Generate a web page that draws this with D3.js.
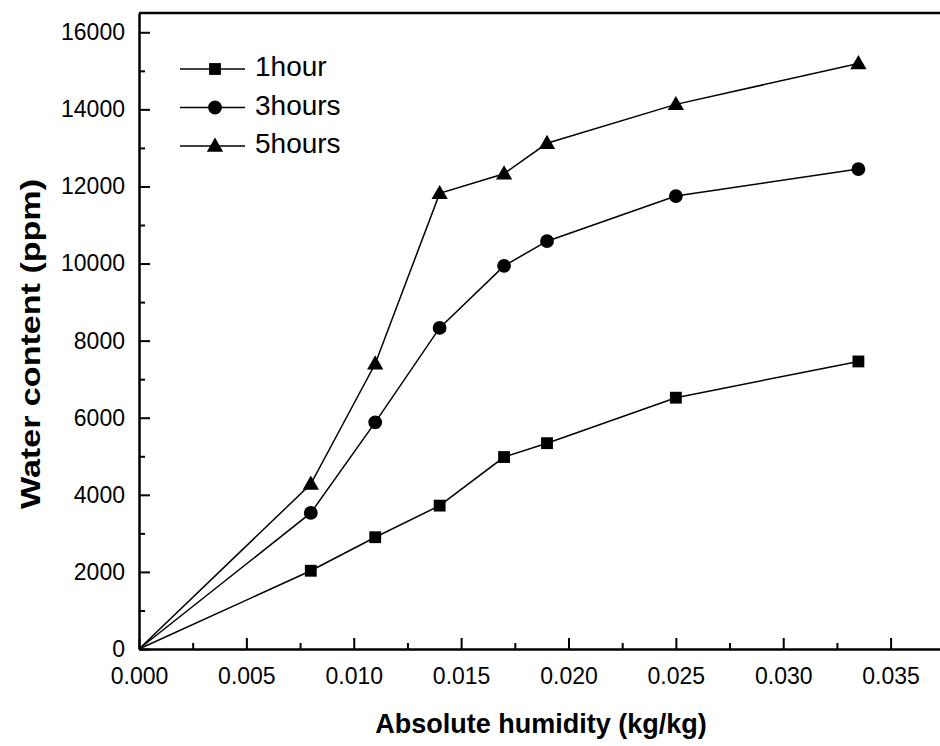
<!DOCTYPE html>
<html>
<head>
<meta charset="utf-8">
<script src="https://cdn.jsdelivr.net/npm/d3@7"></script>
<style>
  body { margin: 0; background: #fff; }
  svg { font-family: "Liberation Sans", Arial, sans-serif; }
</style>
</head>
<body>
<div class="chart"></div>
<script>
// data
const humidity = [0, 0.008, 0.011, 0.014, 0.017, 0.019, 0.025, 0.0335]
const hour1 = [0, 2030, 2900, 3720, 4980, 5340, 6520, 7460]
const hour3 = [0, 3530, 5880, 8330, 9940, 10580, 11750, 12450]
const hour5 = [0, 4280, 7400, 11820, 12330, 13120, 14130, 15190]
const seriesNames = ['1hour', '3hours', '5hours']
const seriesMarkers = ['square', 'circle', 'triangle']
const xTicks = [0, 0.005, 0.010, 0.015, 0.020, 0.025, 0.030, 0.035]
const yTicks = [0, 2000, 4000, 6000, 8000, 10000, 12000, 14000, 16000]

const series = [hour1, hour3, hour5].map((vals, i) => ({
    name: seriesNames[i],
    marker: seriesMarkers[i],
    points: vals.map((v, j) => ({x: humidity[j], y: v}))
}))

const width = 940, height = 746
const margin = {top: 13, right: 0, bottom: 97, left: 139}

const svg = d3.select('.chart').append('svg')
    .attr('width', width).attr('height', height)

const xScale = d3.scaleLinear().domain([0, 0.0373]).range([margin.left, width - margin.right])
const yScale = d3.scaleLinear().domain([0, 16500]).range([height - margin.bottom, margin.top])

// frame: top edge
svg.append('line')
    .attr('x1', margin.left).attr('x2', width)
    .attr('y1', margin.top).attr('y2', margin.top)
    .attr('stroke', '#000').attr('stroke-width', 2.5)

// x axis, ticks pointing inward
const xMinor = d3.range(0.0025, 0.0373, 0.005)
svg.append('g').attr('transform', `translate(0,${yScale(0)})`)
    .call(d3.axisBottom(xScale).tickValues(xMinor).tickSize(-6).tickFormat(''))
    .call(g => g.select('.domain').remove())
    .selectAll('line').attr('stroke-width', 2)

const xAxisDraw = svg.append('g').attr('class', 'x axis')
    .attr('transform', `translate(0,${yScale(0)})`)
    .call(d3.axisBottom(xScale).tickValues(xTicks).tickSizeInner(-11).tickSizeOuter(0)
        .tickFormat(d3.format('.3f')))
xAxisDraw.select('.domain').attr('stroke-width', 2.5)
xAxisDraw.selectAll('.tick line').attr('stroke-width', 2)
xAxisDraw.selectAll('text').attr('y', 19).attr('font-size', 23).attr('fill', '#000')

// y axis
const yMinor = d3.range(1000, 16500, 2000)
svg.append('g').attr('transform', `translate(${xScale(0)},0)`)
    .call(d3.axisLeft(yScale).tickValues(yMinor).tickSize(-6).tickFormat(''))
    .call(g => g.select('.domain').remove())
    .selectAll('line').attr('stroke-width', 2)

const yAxisDraw = svg.append('g').attr('class', 'y axis')
    .attr('transform', `translate(${xScale(0)},0)`)
    .call(d3.axisLeft(yScale).tickValues(yTicks).tickSizeInner(-11).tickSizeOuter(0)
        .tickFormat(d3.format('d')))
yAxisDraw.select('.domain').attr('stroke-width', 2.5)
yAxisDraw.selectAll('.tick line').attr('stroke-width', 2)
yAxisDraw.selectAll('text').attr('x', -14).attr('font-size', 23).attr('fill', '#000')

// axis titles
svg.append('text')
    .attr('x', 541).attr('y', 733)
    .attr('text-anchor', 'middle')
    .attr('font-size', 27).attr('font-weight', 'bold')
    .text('Absolute humidity (kg/kg)')

svg.append('text')
    .attr('transform', 'translate(40,344) rotate(-90)')
    .attr('text-anchor', 'middle')
    .attr('font-size', 28).attr('font-weight', 'bold')
    .attr('textLength', 330).attr('lengthAdjust', 'spacingAndGlyphs')
    .text('Water content (ppm)')

// markers
const symbolType = {square: d3.symbolSquare, circle: d3.symbolCircle, triangle: d3.symbolTriangle}
const symbolSize = {square: 140, circle: 150, triangle: 115}

function drawMarker(g, kind, x, y) {
    g.append('path')
        .attr('d', d3.symbol().type(symbolType[kind]).size(symbolSize[kind])())
        .attr('transform', `translate(${x},${y + (kind === 'triangle' ? 1 : 0)})`)
        .attr('fill', '#000')
}

const line = d3.line().x(d => xScale(d.x)).y(d => yScale(d.y))

series.forEach(s => {
    svg.append('path')
        .datum(s.points)
        .attr('d', line)
        .attr('fill', 'none')
        .attr('stroke', '#000')
        .attr('stroke-width', 1.5)
    const g = svg.append('g')
    s.points.slice(1).forEach(p => drawMarker(g, s.marker, xScale(p.x), yScale(p.y)))
})

// legend
const legend = svg.append('g').attr('transform', 'translate(180,69)')
series.forEach((s, i) => {
    const row = legend.append('g').attr('transform', `translate(0,${i * 38.5})`)
    row.append('line').attr('x1', 0).attr('x2', 65).attr('y1', 0).attr('y2', 0)
        .attr('stroke', '#000').attr('stroke-width', 1.6)
    drawMarker(row, s.marker, 35, 0)
    row.append('text').attr('x', 75).attr('y', 7)
        .attr('font-size', 28).text(s.name)
})
</script>
</body>
</html>
